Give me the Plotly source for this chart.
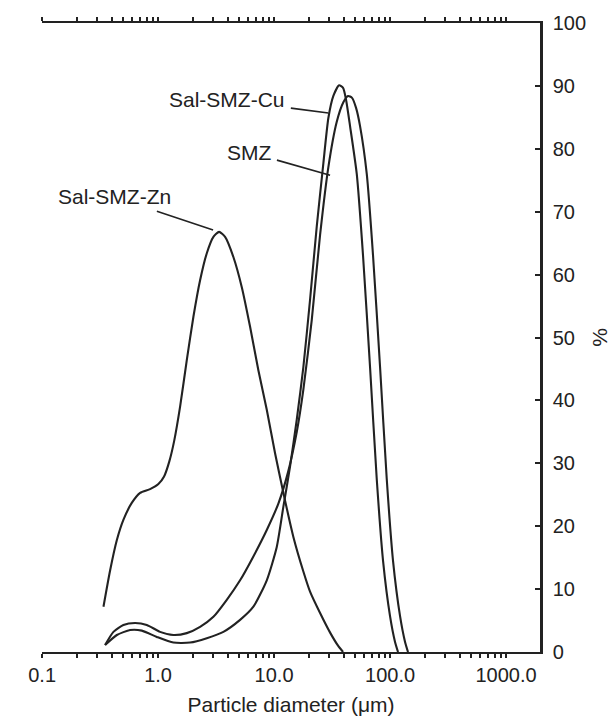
import numpy as np
import plotly.graph_objects as go

# ---- data: particle diameter (um) vs. volume %
zn_d = [0.338, 0.386, 0.441, 0.502, 0.593, 0.700, 0.853, 1.006, 1.126, 1.250, 1.378,
        1.548, 1.768, 2.016, 2.302, 2.630, 2.999, 3.357, 3.782, 4.458, 5.268, 6.212,
        7.322, 8.651, 10.20, 12.03, 14.67, 17.89, 20.43, 24.93, 30.6, 35.62, 39.35]
zn_p = [7.2, 13.0, 17.8, 21.0, 23.7, 25.3, 25.9, 26.7, 27.9, 30.3, 33.6,
        39.0, 46.4, 53.3, 59.1, 63.4, 66.0, 66.8, 66.0, 62.8, 58.0, 51.7,
        44.8, 38.5, 31.6, 25.3, 18.3, 12.8, 9.6, 6.2, 3.0, 1.0, 0.0]

cu_d = [0.349, 0.441, 0.574, 0.724, 0.975, 1.355, 1.888, 2.630, 3.656, 5.093, 6.632,
        8.651, 10.55, 12.03, 13.74, 15.70, 17.89, 20.43, 23.35, 26.61, 29.39, 32.45,
        36.34, 39.35, 41.76, 45.21, 51.64, 58.50, 67.23, 76.79, 87.05, 100.0, 110.4, 117.2]
cu_p = [1.1, 2.7, 3.5, 3.4, 2.4, 1.5, 1.5, 2.2, 3.2, 5.1, 7.2,
        11.4, 16.7, 23.1, 29.5, 37.0, 45.3, 56.0, 67.7, 77.7, 84.9, 88.4,
        90.1, 89.7, 87.8, 83.6, 76.0, 63.0, 45.3, 27.5, 14.5, 5.7, 1.6, 0.0]

smz_d = [0.349, 0.412, 0.502, 0.633, 0.799, 1.04, 1.355, 1.768, 2.302, 2.999, 3.911,
         5.093, 6.632, 8.651, 10.89, 13.20, 15.70, 17.89, 21.14, 24.93, 29.39, 34.72,
         39.58, 43.45, 47.03, 50.93, 55.13, 62.99, 71.36, 82.02, 93.67, 106.1, 122.0,
         134.7, 142.9]
smz_p = [1.1, 3.2, 4.3, 4.6, 4.3, 3.2, 2.7, 3.0, 4.0, 5.6, 8.3,
         11.4, 15.2, 19.4, 23.6, 28.6, 35.0, 41.7, 52.8, 66.3, 77.1, 84.3,
         87.4, 88.4, 88.1, 86.5, 83.6, 76.0, 63.0, 45.3, 27.5, 14.5, 5.7,
         1.6, 0.0]

# label anchor points on the curves (diameter, %)
label_names = ["Sal-SMZ-Cu", "SMZ", "Sal-SMZ-Zn"]
label_d = [29.4, 30.4, 2.98]
label_p = [85.7, 75.8, 67.1]
label_dx = [-101, -81, -99]
label_dy = [-13, -23, -33]

# axis ticks
x_major = [0.1, 1, 10, 100, 1000]
x_major_text = ["0.1", "1.0", "10.0", "100.0", "1000.0"]
x_ticks = [m * 10.0 ** k for k in range(-1, 4) for m in range(1, 10)]
x_tick_text = [x_major_text[x_major.index(round(v, 6))] if round(v, 6) in x_major else ""
               for v in x_ticks]
left_ticks = list(range(0, 11))
left_text = ["0"] + [""] * 9 + ["10"]
right_ticks = list(range(0, 101, 10))

INK = "#222222"
FONT = "Liberation Sans, Arial, sans-serif"
FS_TICK = 20
FS_TEXT = 21

fig = go.Figure()
for d, p, n in [(zn_d, zn_p, "Sal-SMZ-Zn"), (cu_d, cu_p, "Sal-SMZ-Cu"), (smz_d, smz_p, "SMZ")]:
    fig.add_trace(go.Scatter(x=d, y=p, mode="lines", name=n, xaxis="x", yaxis="y2",
                             line=dict(color=INK, width=2.1, shape="spline", smoothing=0.6),
                             showlegend=False))

xr = [-1.001, 3.293]
common_x = dict(type="log", range=xr, tickvals=x_ticks, showgrid=False, zeroline=False,
                showline=True, linecolor=INK, linewidth=2, tickcolor=INK, tickwidth=1.5,
                ticklen=4, mirror="ticks", automargin=False)

annotations = []
for name, d, p, dx, dy in zip(label_names, label_d, label_p, label_dx, label_dy):
    annotations.append(dict(x=np.log10(d), y=p, xref="x", yref="y2", text=name,
                            showarrow=True, arrowhead=0, arrowwidth=1.6, arrowcolor=INK,
                            ax=dx, ay=dy, axref="pixel", ayref="pixel", startstandoff=4,
                            font=dict(family=FONT, size=FS_TEXT, color=INK)))

fig.update_layout(
    width=615, height=717,
    margin=dict(l=42, r=75, t=23, b=65, autoexpand=False),
    paper_bgcolor="white", plot_bgcolor="white",
    font=dict(family=FONT, size=FS_TICK, color=INK),
    xaxis=dict(**common_x, ticks="outside", ticktext=x_tick_text,
               anchor="y",
               title=dict(text="Particle diameter (\u03bcm)", standoff=12,
                          font=dict(family=FONT, size=FS_TEXT, color=INK))),
    xaxis2=dict(**common_x, ticks="inside", showticklabels=False, overlaying="x",
                anchor="y"),
    yaxis=dict(range=[0, 10], tickvals=left_ticks, ticktext=left_text, ticks="outside",
               ticklen=4, tickwidth=1.5, tickcolor=INK, showgrid=False, zeroline=False,
               showline=True, linecolor=INK, linewidth=2, anchor="x", automargin=False),
    yaxis3=dict(range=[0, 10], tickvals=left_ticks, ticks="inside", ticklen=4,
                tickwidth=1.5, tickcolor=INK, showticklabels=False, showgrid=False,
                zeroline=False, showline=False, overlaying="y", anchor="x",
                automargin=False),
    yaxis2=dict(range=[0, 100], tickvals=right_ticks, ticks="inside", ticklen=5,
                tickwidth=1.5, tickcolor=INK, showgrid=False, zeroline=False,
                showline=True, linecolor=INK, linewidth=2.5, side="right",
                overlaying="y", anchor="x", ticklabelstandoff=6, automargin=False,
                title=dict(text="%", standoff=8,
                           font=dict(family=FONT, size=FS_TEXT, color=INK))),
    annotations=annotations,
)

fig.write_html("out.html")
